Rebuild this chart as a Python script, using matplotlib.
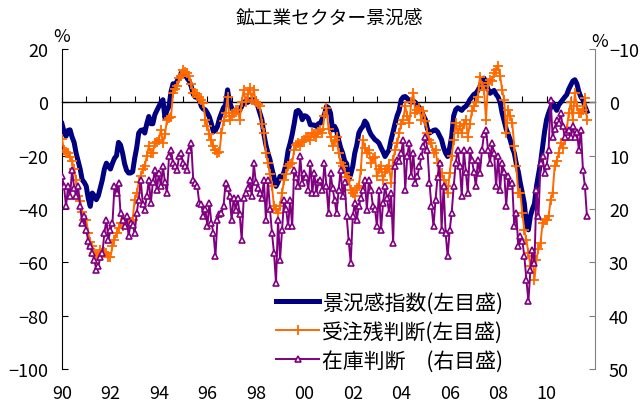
import numpy as np
import matplotlib
matplotlib.use('Agg')
import matplotlib.pyplot as plt

plt.rcParams['font.family'] = ['Noto Sans CJK JP', 'DejaVu Sans']

# 月次データ 1990年1月から2011年9月まで
start_year = 1990

# 景況感指数（左目盛）
sentiment = [
    -8, -11, -12.7, -10.5, -10.3, -13, -15, -19, -22, -25, -29, -30,
    -31.4, -36, -39, -34, -35, -36.5, -35, -32, -29, -25, -22.8, -24,
    -25, -22.8, -21, -20, -15, -16, -19, -23, -25.5, -26.5, -26.5, -26,
    -21, -17, -11.5, -10.5, -10.3, -11.5, -8, -5.3, -8, -8, -4.6, -3,
    -1.5, 0, 1, -5.8, -3, -1.5, 4, 7, 6, 8, 9.1, 11,
    11, 10.4, 9, 8, 6, 3, 2, 2, 1, -1.5, -2.5, -2.8,
    -4, -5.5, -8, -11, -10.5, -9, -6, -4, -2, -1, 4.7, 0,
    -2, -3.4, -3, -3.5, -3, -1.5, 0, 0.5, 0, 1, 0.5, 1,
    0, -1.5, -4, -6.5, -12, -16, -19, -21.5, -25, -28, -31.5, -30,
    -27.7, -28, -26, -23, -18, -15.3, -12, -8, -3.4, -3, -4, -6.5,
    -5, -5.2, -6, -8.4, -8.5, -8.5, -9, -8, -7.8, -6, -4.6, -1.5,
    -2, -4, -10.3, -9, -10.5, -14, -17, -19, -22, -23, -29, -27,
    -24, -19, -16, -11.5, -10, -9, -7, -8, -10.3, -12, -13, -14,
    -14.5, -15.3, -17, -18.5, -20.3, -19, -17.8, -14, -11, -7.8, -5, -3,
    1, 2, 2.2, 1.5, 0.5, 0, 0.5, 0, -1, -2, -3, -5,
    -6.5, -10, -11.5, -11, -10.5, -10.3, -11, -12.5, -14, -17, -19, -20.3,
    -17, -12.8, -5, -2.7, -2, -2.5, -3, -2, -1.5, -0.5, 1, 2,
    3, 3.4, 4.5, 6, 8, 9.1, 7, 5, 3.4, 4, 4.5, 3,
    2, 0, -4, -7, -10, -12, -14, -17, -19, -23, -26, -30.3,
    -34, -38, -46, -47.8, -42.6, -40, -38, -31.5, -27, -22.8, -17, -11,
    -6.5, -4, -2, 0, -1.5, -3, -1, 0, 1, 2, 2.9, 5,
    6.5, 8, 8.5, 7, 4, 2, 1, -1.5, -3.4,
]

# 受注残判断（左目盛）
backlog = [
    -13.8, -17.8, -18.5, -19, -20.3, -22, -25, -29, -35, -37, -41, -44,
    -44, -49, -52.5, -54, -56.5, -57.5, -57.8, -55.3, -56.5, -56, -56.5, -58,
    -58, -54, -51.5, -49, -47, -45.3, -46.5, -45, -44, -45.3, -45, -44,
    -36.5, -34, -30, -27.8, -25, -24, -20, -16.5, -19, -19, -15.3, -15,
    -14, -10.3, -15.3, -12, -6.5, -6, -5.3, 3.5, 5, 6, 9, 10,
    12.2, 11.5, 11, 10, 7, 3.5, 3.5, 3, 2.2, 1, -0.3, -6.5,
    -9, -12, -14, -16.5, -18, -19, -18.5, -11.5, -7, -4, 2.2, -6.5,
    -5, -4, -3, -2.8, -6.5, 0, 4.7, 0, 3, 5.4, 1, 4.7,
    0, -0.5, -1.5, -8, -11.5, -19, -22.8, -27, -31.5, -39, -40, -41.5,
    -39, -34, -29, -27, -24, -23, -22.8, -17.8, -16, -15.3, -16.5, -15,
    -14, -12.8, -13, -14, -11.5, -12, -12.8, -11, -10.3, -11.5, -5, -2.1,
    -10, -12.8, -16.5, -14, -12.8, -19, -22.8, -24, -26.5, -28, -29, -32.8,
    -34, -35.3, -32, -31.5, -25.3, -14, -17, -19, -18, -22.8, -21, -20.3,
    -27.8, -25, -24, -29, -26, -25, -24, -30.3, -21.5, -18, -15.3, -11.5,
    -8, -6.5, -1.5, -5, -7.8, 0, 3.5, -4, -3, -2, -6.5, -3.4,
    -7, -11.5, -14, -15.3, -19, -18, -22.8, -27.8, -26.5, -29, -31.5, -34,
    -26.5, -20, -14, -7.8, -11.5, -9, -11.5, -8, -6.5, -12.8, -8, -3.4,
    -1.5, 0, 2.2, 9.7, 6, 4.7, -6.5, 7.2, 8.5, 8, 11, 12.2,
    13.5, 10, 4.7, 1, -11.5, -2.8, -5, -7.8, -16.5, -24, -34, -34,
    -41.5, -48, -51.5, -56.5, -61.5, -57.8, -66.5, -59, -55, -52.8, -45.3, -44,
    -44, -42.8, -36.5, -34, -24, -22, -19, -15.3, -17, -14, -10, -4,
    0, -6.5, 3.5, -1.5, -4, -4, -3, 1.6, -6.5,
]

# 在庫判断（右目盛）
inventory = [
    13.9, 15.75, 19.5, 15.75, 17.6, 12.6, 16, 17.6, 15.75, 19.5, 22.6, 21.4,
    23.9, 26, 27, 28.25, 29.5, 31.4, 30.75, 29, 28.25, 24.5, 22, 25.75,
    24, 22.6, 15.75, 17, 15.1, 20.75, 22, 23.25, 21.4, 25.1, 22.6, 23,
    24.5, 20.75, 18.25, 14.5, 19, 20.1, 17.6, 14.5, 18.9, 15, 12.6, 16.4,
    13.25, 15.75, 12, 15, 17, 10.1, 8.9, 11.4, 12, 12.6, 10.1, 9.5,
    11.4, 12, 12.6, 8.9, 7.6, 14.5, 15.1, 15.75, 18.9, 19, 21.4, 20,
    23.25, 18.9, 22.6, 24.5, 28.9, 22, 21, 20.75, 19.5, 15.1, 16, 17.6,
    22, 18, 20.1, 18, 21, 25.75, 18, 17, 16, 14.5, 17.6, 11.4,
    15, 16, 17, 18, 14.5, 22, 14.5, 20, 24.5, 28.25, 33.9, 22,
    29.5, 24, 18.25, 20, 23.25, 18.25, 23.25, 12.6, 14, 15.75, 10.1, 15.1,
    13.25, 14, 16.4, 11.4, 17, 13.25, 17, 15, 14.5, 16.4, 11.4, 15.75,
    20.75, 13.25, 16, 18.25, 20.75, 16.4, 12.6, 17.6, 15, 21.4, 26, 30.1,
    21.4, 18.9, 22, 19.5, 18, 16.4, 14.5, 20.1, 14.5, 16.4, 19.5, 20,
    23.25, 16.4, 23.9, 18.9, 15.75, 18, 20.75, 17, 26.4, 12, 10.75, 11,
    9.5, 7, 16.4, 10, 7.6, 13.9, 9.5, 15.1, 13.9, 12, 10, 8.25,
    6.4, 8.9, 15.1, 19.5, 23.25, 18.25, 14, 11.4, 23.9, 15.75, 24.5, 28.9,
    24, 20.75, 15.75, 11.4, 8.9, 12, 17.6, 8.9, 13, 17, 8.9, 10.75,
    13, 15.75, 10.75, 13.25, 8.9, 6, 5.1, 8.9, 11.4, 7.6, 9.5, 15.75,
    10.1, 16.4, 11.4, 13, 19.5, 13.9, 15.75, 15.1, 23.25, 20.75, 27, 25.1,
    26, 28.9, 33.25, 37.3, 31.4, 27.6, 30.1, 16.4, 21.4, 11.4, 10.1, 13.25,
    12, 8.9, -0.5, 6.4, 5, 3.25, 3.9, 2, 4.5, 6.4, 5.5, 5.1,
    6.4, 4.5, 6.4, 5.5, 8.9, 5.1, 12.6, 15.75, 21.4,
]

year_labels = ['90', '92', '94', '96', '98', '00', '02', '04', '06', '08', '10']

t = start_year + np.arange(len(sentiment)) / 12

fig = plt.figure(figsize=(6.43, 4.06), dpi=100)
ax = fig.add_axes([0.0964, 0.0887, 0.829, 0.788])
ax2 = ax.twinx()

l1, = ax.plot(t, sentiment, color='#000080', lw=3.6, label='景況感指数(左目盛)', zorder=3)
l2, = ax.plot(t, backlog, color='#FF6A00', lw=1.4, marker='+', ms=7.5, mew=1.3,
              label='受注残判断(左目盛)', zorder=4)
l3, = ax2.plot(t, inventory, color='#800080', lw=1.4, marker='^', ms=5, mew=1.2,
               mfc='white', label='在庫判断\u3000(右目盛)')

ax.set_xlim(1990, 2012)
ax.set_ylim(-100, 20)
ax.set_yticks(range(-100, 21, 20))
ax2.set_ylim(50, -10)
ax2.set_yticks(range(-10, 51, 10))

# 0の線に年の目盛
ax.spines['bottom'].set_position(('data', 0))
ax.spines['bottom'].set_linewidth(1.0)
ax.set_xticks(range(1990, 2012))
ax.tick_params(axis='x', direction='in', length=4, labelbottom=False)
sec = ax.secondary_xaxis('bottom')
sec.spines['bottom'].set_visible(False)
sec.set_xticks(range(1990, 2011, 2))
sec.set_xticklabels(year_labels)
sec.tick_params(axis='x', length=0, labelsize=13, pad=11)

for a in (ax, ax2):
    a.spines['top'].set_visible(False)
ax.spines['right'].set_visible(False)
ax2.spines['bottom'].set_visible(False)
ax2.spines['left'].set_visible(False)
ax2.spines['right'].set_color('#808080')
ax.tick_params(axis='y', direction='in', length=4, labelsize=13, pad=10)
ax2.tick_params(axis='y', direction='in', length=4, labelsize=13, pad=10, color='#808080')

fig.text(0.513, 0.955, '鉱工業セクター景況感', ha='center', va='center', fontsize=13.5)
fig.text(0.0964, 0.909, '%', ha='center', va='center', fontsize=13)
fig.text(0.933, 0.897, '%', ha='center', va='center', fontsize=13)

leg = ax2.legend(handles=[l1, l2, l3], loc='upper left', bbox_to_anchor=(0.394, 0.255),
                 frameon=True, fontsize=15, handlelength=2.05, handletextpad=0.15,
                 labelspacing=0.33, borderpad=0.2, borderaxespad=0)
leg.get_frame().set_edgecolor('none')
leg.get_frame().set_facecolor('white')
leg.get_frame().set_alpha(1)

fig.savefig('out.png', dpi=100)
